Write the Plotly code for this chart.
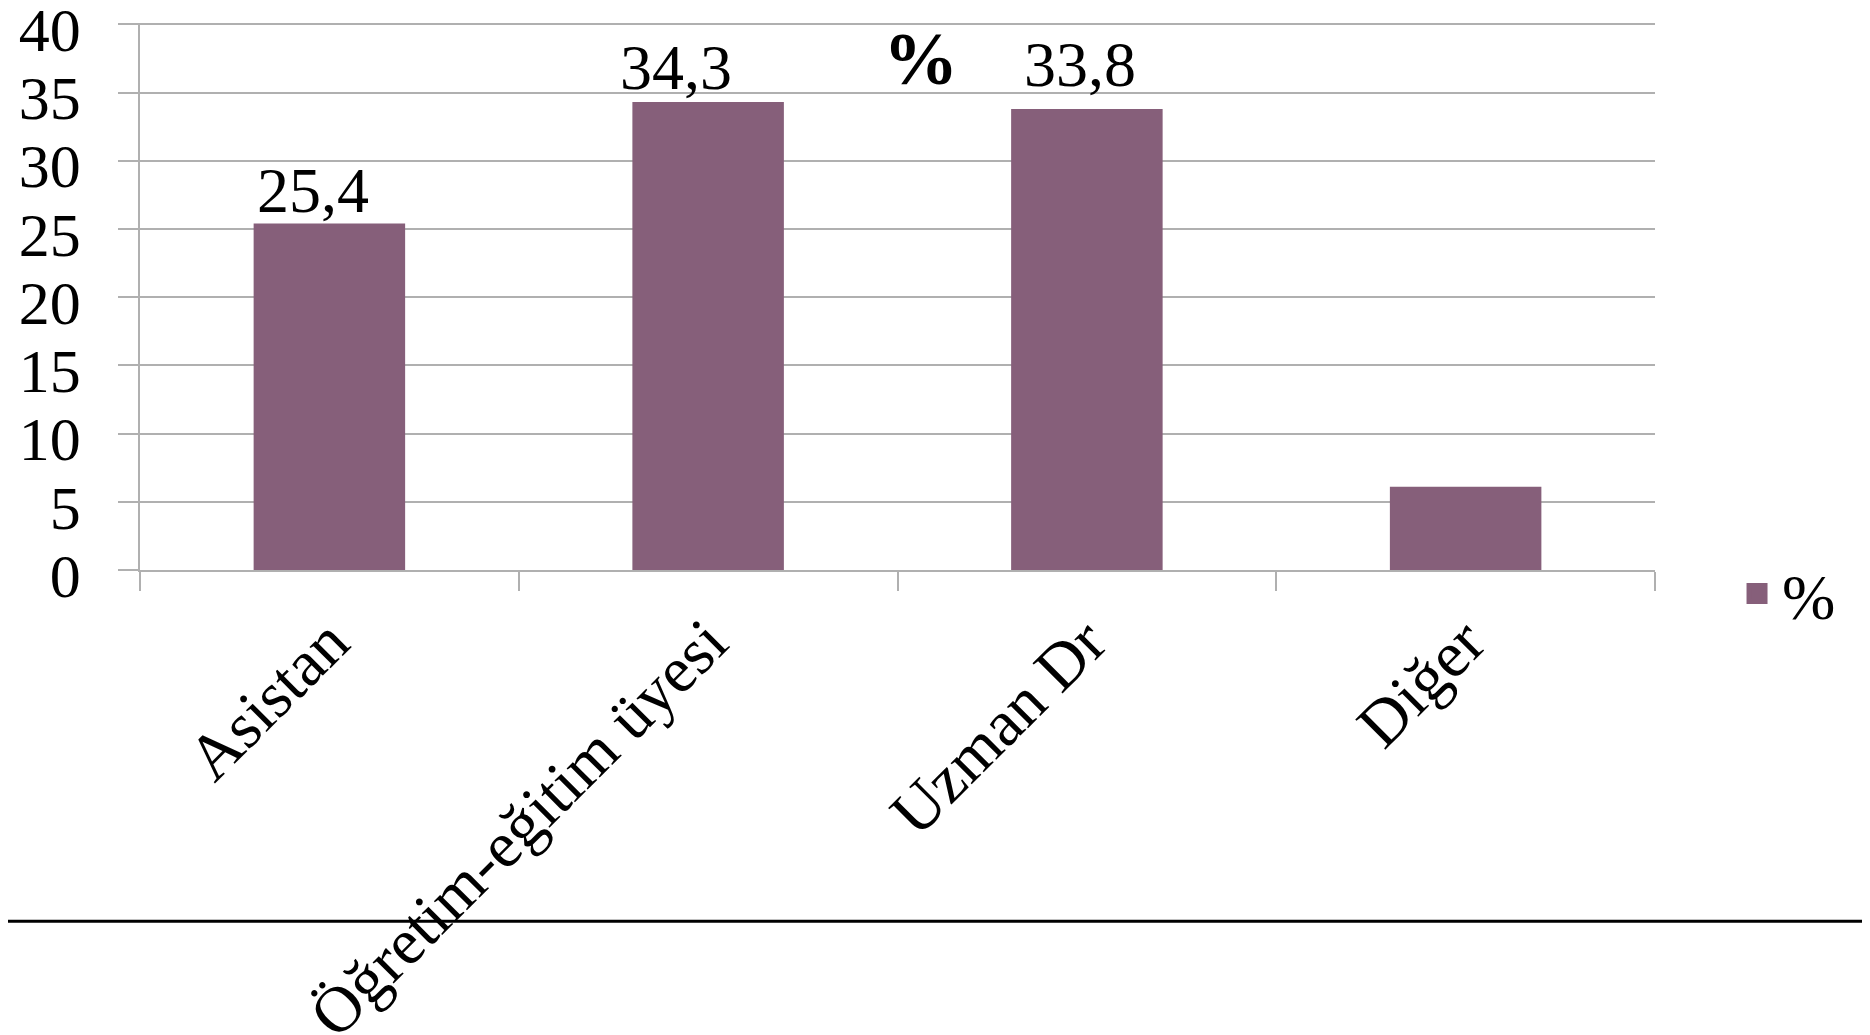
import plotly.graph_objects as go

categories = ["Asistan", "Öğretim-eğitim üyesi", "Uzman Dr", "Diğer"]
values = [25.4, 34.3, 33.8, 6.1]
show_label = [True, True, True, False]
series_name = "%"
title_text = "%"
y_ticks = [0, 5, 10, 15, 20, 25, 30, 35, 40]

# label nudges (pixels), style only
label_dx = [-16, -32, -6.5, 0]
label_dy = [-4.5, -3, 6.5, 0]

BAR_COLOR = "#865F7A"
GRID = "#B0B0B0"
FONT = "Liberation Serif"

# page has an 8px body margin; figure is sized to fit exactly
W, H = 1862, 1027

fig = go.Figure()
fig.add_trace(go.Bar(
    x=categories, y=values, name=series_name,
    marker=dict(color=BAR_COLOR, line=dict(width=0)),
    showlegend=False, legendgroup="s",
))
# legend entry (larger swatch than the default bar swatch)
fig.add_trace(go.Scatter(
    x=[None], y=[None], name=series_name, mode="markers",
    marker=dict(symbol="square", size=16, color=BAR_COLOR,
                line=dict(width=5, color=BAR_COLOR)),
    showlegend=True, legendgroup="s", hoverinfo="skip",
))

for c, v, s, dx, dy in zip(categories, values, show_label, label_dx, label_dy):
    if s:
        fig.add_annotation(
            x=c, y=v, xref="x", yref="y",
            text=f"{v:.1f}".replace(".", ","),
            showarrow=False, xanchor="center", yanchor="bottom",
            xshift=dx, yshift=dy,
            font=dict(family=FONT, size=64, color="black"),
        )

fig.update_layout(
    width=W, height=H,
    margin=dict(l=131.5, r=215, t=14.6, b=465, autoexpand=False),
    paper_bgcolor="white", plot_bgcolor="white",
    bargap=0.6,
    font=dict(family=FONT, color="black"),
    title=dict(text="<b>" + title_text + "</b>", x=0.4902, xanchor="center",
               y=0.9518, yanchor="middle", font=dict(family=FONT, size=75, color="black")),
    legend=dict(x=0.9259, xanchor="left", y=0.4294, yanchor="middle",
                xref="container", yref="container",
                itemwidth=40,
                font=dict(family=FONT, size=64, color="black"),
                bgcolor="rgba(0,0,0,0)"),
    xaxis=dict(
        tickangle=-45, tickson="boundaries", ticks="outside", ticklen=19,
        tickcolor=GRID, tickwidth=1.5,
        showline=True, linecolor=GRID, linewidth=1.5,
        showgrid=False, automargin=False,
        tickfont=dict(family=FONT, size=65, color="black"),
        ticklabelstandoff=6,
    ),
    yaxis=dict(
        range=[0, 40.1], tickvals=y_ticks, ticks="outside", ticklen=20,
        tickcolor=GRID, tickwidth=1.5,
        showline=True, linecolor=GRID, linewidth=1.5,
        showgrid=True, gridcolor=GRID, gridwidth=1.5,
        zeroline=False, automargin=False,
        ticklabeloverflow="allow", ticklabelshift=5,
        tickfont=dict(family=FONT, size=62, color="black"),
        ticklabelstandoff=25,
    ),
)

fig.add_shape(type="line", xref="paper", yref="paper",
              x0=-0.2, x1=1.3, y0=-0.642, y1=-0.642,
              line=dict(color="black", width=3))

fig.write_html("out.html")
